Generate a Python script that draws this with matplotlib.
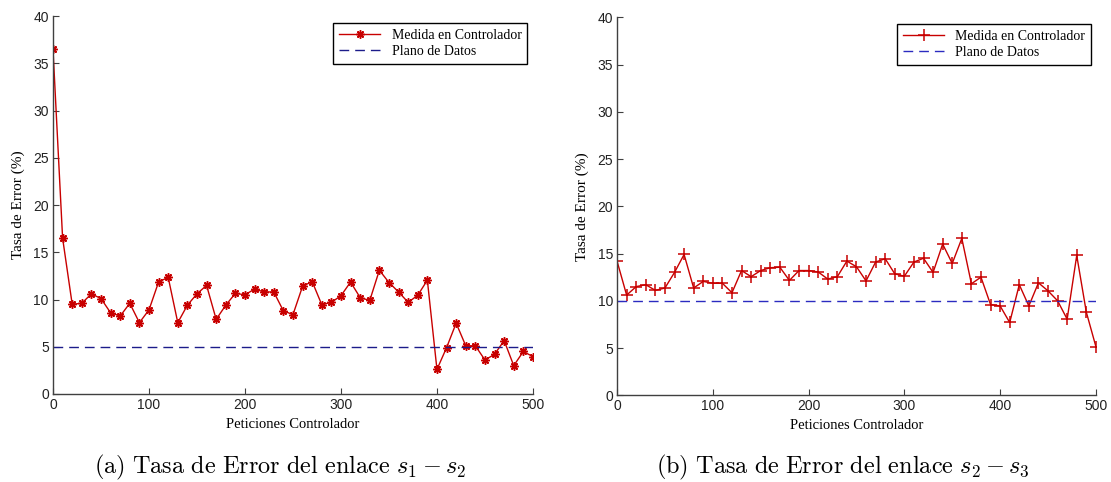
import numpy as np
import matplotlib
matplotlib.use("Agg")
from matplotlib import pyplot as plt

# peticiones al controlador (eje x comun)
peticiones = list(range(0, 501, 10))

# tasa de error medida en el controlador, enlace s1 - s2
error_s1_s2 = [36.5, 16.5, 9.5, 9.6, 10.6, 10.1, 8.6, 8.25, 9.6, 7.55,
               8.9, 11.85, 12.35, 7.55, 9.4, 10.6, 11.5, 7.9, 9.4, 10.65,
               10.5, 11.1, 10.8, 10.8, 8.8, 8.4, 11.4, 11.9, 9.45, 9.7,
               10.4, 11.85, 10.2, 9.9, 13.1, 11.8, 10.8, 9.7, 10.45, 12.05,
               2.6, 4.9, 7.5, 5.1, 5.1, 3.6, 4.2, 5.65, 3.0, 4.5,
               3.95]

# tasa de error medida en el controlador, enlace s2 - s3
error_s2_s3 = [14.2, 10.6, 11.5, 11.7, 11.1, 11.35, 13.0, 14.9, 11.35, 12.05,
               11.85, 11.85, 10.85, 13.2, 12.55, 13.2, 13.5, 13.55, 12.15, 13.2,
               13.2, 13.05, 12.3, 12.55, 14.2, 13.6, 12.1, 14.1, 14.45, 12.85,
               12.6, 14.1, 14.5, 13.0, 16.0, 13.95, 16.6, 11.8, 12.5, 9.6,
               9.45, 7.7, 11.7, 9.45, 11.9, 11.05, 10.0, 8.05, 14.8, 8.8,
               5.15]

# error real en el plano de datos
plano_s1_s2 = 5
plano_s2_s3 = 10

# marcador tipo asterisco (lineas, sin relleno) y cruz
asterisco = (8, 2, 0)

subplots = [
    ([0.0477, 0.1826, 0.432, 0.784], error_s1_s2, plano_s1_s2, asterisco, 6,
     r"$\mathrm{(a)\ Tasa\ de\ Error\ del\ enlace\ }s_1 - s_2$",
     (0.9875, 0.981), "#1c1c8a"),
    ([0.5554, 0.180, 0.431, 0.784], error_s2_s3, plano_s2_s3, "+", 8,
     r"$\mathrm{(b)\ Tasa\ de\ Error\ del\ enlace\ }s_2 - s_3$",
     (0.9896, 0.982), "#2b2bc0"),
]

plt.rcParams["mathtext.fontset"] = "cm"

fig = plt.figure(figsize=(11.11, 4.82), dpi=100)
for rect, errores, plano, marcador, msize, titulo, anchor, azul in subplots:
    ax = fig.add_axes(rect)
    ax.plot(peticiones, errores, color="#c80000", linewidth=1.0,
            marker=marcador, markersize=msize, markeredgewidth=1.1,
            label="Medida en Controlador")
    ax.plot([peticiones[0], peticiones[-1]], [plano, plano], color=azul,
            linestyle=(0, (7, 4.3)), linewidth=1.0, label="Plano de Datos")

    ax.set_xlim(0, 500)
    ax.set_ylim(0, 40)
    ax.set_xticks(range(0, 501, 100))
    ax.set_yticks(range(0, 41, 5))
    ax.spines["top"].set_visible(False)
    ax.spines["right"].set_visible(False)
    for s in ("left", "bottom"):
        ax.spines[s].set_color("#404040")
        ax.spines[s].set_linewidth(1.0)
    ax.tick_params(direction="in", length=4, color="#404040",
                   labelsize=10, pad=3)
    for lbl in ax.get_xticklabels() + ax.get_yticklabels():
        lbl.set_family("Liberation Sans")
        lbl.set_color("#222222")

    ax.set_xlabel("Peticiones Controlador", family="Liberation Serif",
                  fontsize=10.5, labelpad=4)
    ax.set_ylabel("Tasa de Error (%)", family="Liberation Serif",
                  fontsize=11, labelpad=6)

    leg = ax.legend(loc="upper right", bbox_to_anchor=anchor,
                    borderaxespad=0, fancybox=False, handlelength=3,
                    prop={"family": "Liberation Serif", "size": 10},
                    labelspacing=0.25, borderpad=0.4, framealpha=1)
    leg.get_frame().set_edgecolor("black")
    leg.get_frame().set_linewidth(1.0)

    centro = rect[0] + rect[2] / 2 - 0.012
    fig.text(centro, 0.03, titulo, ha="center", va="center", fontsize=17.5)

fig.savefig("out.png", dpi=100)
